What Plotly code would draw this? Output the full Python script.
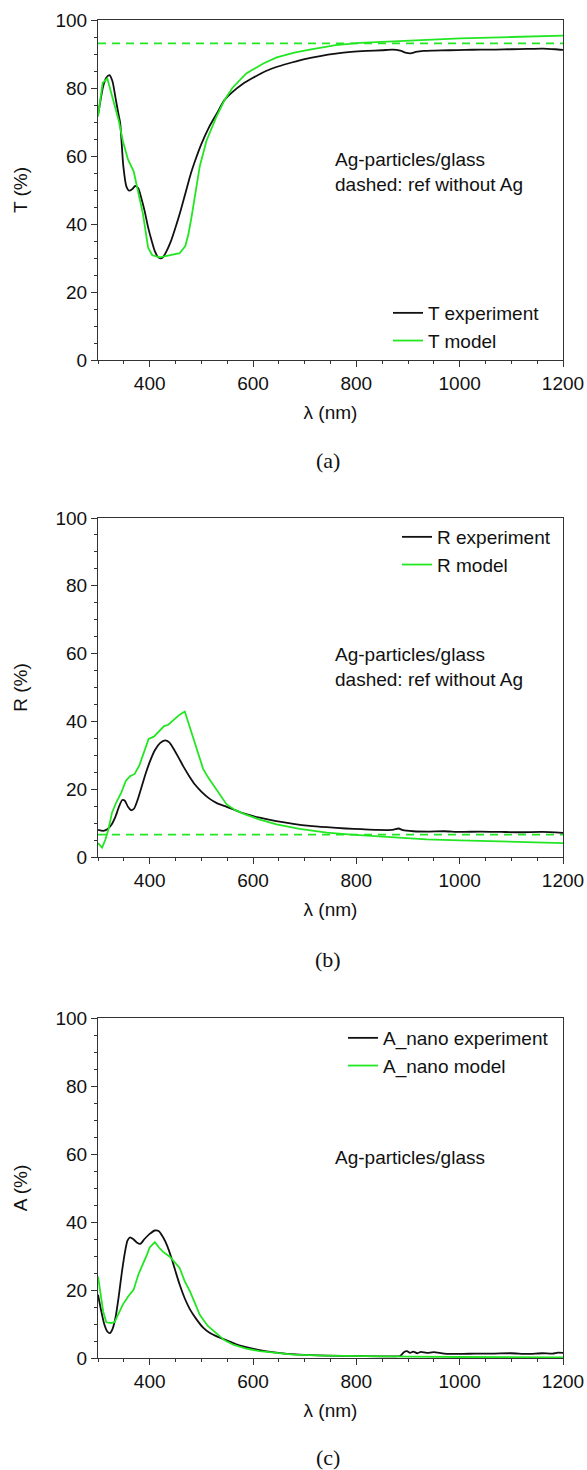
import plotly.graph_objects as go

# ---------------- data ----------------
# Panel (a): transmission
wl_T_exp = [300, 305, 310, 316, 322, 328, 334, 340, 343, 349, 355, 360, 366, 372, 378, 384, 390,
            397, 404, 410, 416, 421, 426, 432, 440, 450, 460, 470, 480, 490, 500, 515, 530, 545,
            560, 580, 600, 625, 650, 675, 700, 730, 760, 790, 820, 850, 870, 885, 895, 905, 915,
            930, 950, 980, 1010, 1040, 1070, 1100, 1130, 1160, 1185, 1200]
T_exp = [72, 76.5, 80.5, 83, 83.8, 82, 77, 72, 69.6, 57, 51, 49.8, 50.2, 51.2, 50.5, 47.5, 44,
         39, 35, 32, 30.3, 29.9, 30.3, 31.8, 34.5, 39, 44, 49.5, 55, 59.5, 63.5, 68.5, 72.5, 76.5,
         78.8, 81.2, 83, 85, 86.4, 87.5, 88.5, 89.4, 90.1, 90.6, 90.9, 91.1, 91.3, 91.0, 90.4, 90.2, 90.6,
         90.9, 91.0, 91.1, 91.2, 91.3, 91.3, 91.4, 91.5, 91.6, 91.4, 91.2]
wl_T_mod = [300, 309, 318, 325, 333, 340, 348, 358, 369, 377, 387, 397, 405, 420, 440, 458, 469,
            475, 481, 490, 497, 510, 529, 545, 560, 587, 620, 646, 680, 710, 760, 807, 872, 940,
            1001, 1100, 1200]
T_mod = [71.6, 81.5, 82.8, 79, 74, 70.5, 64.5, 59, 55.5, 50, 43, 33, 30.8, 30.2, 30.8, 31.4, 33.5,
         37, 42, 51, 57, 64.5, 71.5, 76.5, 80, 84.3, 87.2, 89, 90.4, 91.3, 92.6, 93.3, 93.8, 94.3,
         94.6, 95.0, 95.4]
T_ref = 93.1

# Panel (b): reflection
wl_R_exp = [300, 310, 318, 326, 334, 341, 347, 352, 358, 364, 370, 377, 384, 392, 400, 410, 420,
            430, 438, 446, 456, 466, 476, 488, 500, 515, 530, 549, 562, 585, 613, 645, 678, 710,
            743, 780, 810, 840, 870, 882, 890, 910, 940, 970, 1000, 1040, 1080, 1120, 1160, 1200]
R_exp = [8.0, 7.7, 8.2, 9.5, 12, 15, 16.8, 16.6, 14.8, 13.8, 14.3, 17, 20.5, 24.5, 28, 31.5, 33.6,
         34.4, 33.8, 32, 29.3, 26.5, 24, 21.3, 19.3, 17.3, 15.9, 14.8, 14.0, 12.7, 11.6, 10.6, 9.8, 9.2,
         8.8, 8.4, 8.2, 8.0, 8.0, 8.4, 7.9, 7.6, 7.5, 7.6, 7.4, 7.5, 7.4, 7.3, 7.4, 7.1]
wl_R_mod = [300, 308, 314, 320, 327, 335, 345, 354, 362, 371, 380, 390, 398, 408, 418, 428, 436,
            446, 458, 468, 476, 484, 494, 503.5, 513, 523, 536, 549, 565, 581, 610, 645.6, 690,
            743, 790, 840, 890, 936, 1000, 1065, 1130, 1200]
R_mod = [4.1, 2.8, 5, 8, 13, 16, 19, 22.5, 23.8, 24.5, 27, 31, 34.8, 35.5, 37, 38.6, 39,
         40.5, 42, 42.9, 39, 35, 30, 26, 23.5, 21.3, 18.3, 15.5, 13.9, 12.8, 11.2, 9.6, 8.3,
         7.2, 6.6, 6.1, 5.6, 5.2, 4.9, 4.6, 4.4, 4.1]
R_ref = 6.6

# Panel (c): absorption
wl_A_exp = [300, 306, 312, 318, 323, 328, 334, 340, 346, 352, 357, 362, 368, 375, 382, 390, 400,
            410, 418, 426, 434, 442, 450, 458, 468, 478, 490, 503, 516, 532, 549, 565, 581, 610,
            645, 690, 743, 800, 872, 885, 892, 898, 904, 910, 918, 925, 936, 950, 970, 1001, 1030,
            1065, 1100, 1130, 1160, 1180, 1190, 1200]
A_exp = [18.6, 14, 10, 7.8, 7.3, 8.5, 12, 18, 25, 31, 34.5, 35.5, 35, 34, 33.6, 35, 36.5,
         37.5, 37.3, 35.5, 33, 29.5, 25.5, 21.6, 17.5, 14.3, 11.5, 9, 7.4, 6.2, 5.2, 4.2, 3.4, 2.4,
         1.6, 1.0, 0.7, 0.6, 0.5, 0.6, 1.7, 2.0, 1.5, 1.9, 1.4, 1.8, 1.5, 1.7, 1.3, 1.2, 1.3,
         1.3, 1.4, 1.2, 1.4, 1.3, 1.6, 1.5]
wl_A_mod = [300, 305, 310, 316, 325, 332, 340, 348, 358, 369, 378, 387, 395, 400, 410, 418, 426,
            439, 450, 458, 468, 478, 488, 497, 512, 529, 545, 562, 585, 613, 645, 678, 740, 807,
            900, 1000, 1100, 1200]
A_mod = [24, 18, 13.7, 10.5, 10.3, 10.5, 13, 15.7, 18, 20.1, 24.5, 27.5, 30.5, 32.5, 34.1, 32.5, 31.2,
         29.8, 28, 26.5, 22.5, 19.6, 16, 12.7, 9.5, 7.2, 5.2, 3.9, 2.8, 2.0, 1.4, 1.0, 0.7, 0.5,
         0.4, 0.3, 0.25, 0.2]

x_range = [300, 1200]
y_range = [0, 100]
x_ticks = [400, 600, 800, 1000, 1200]
y_ticks = [0, 20, 40, 60, 80, 100]

y_titles = ["T (%)", "R (%)", "A (%)"]
x_title = "λ (nm)"
panel_labels = ["(a)", "(b)", "(c)"]
legend_names = [["T experiment", "T model"],
                ["R experiment", "R model"],
                ["A_nano experiment", "A_nano model"]]
notes = ["Ag-particles/glass<br>dashed: ref without Ag",
         "Ag-particles/glass<br>dashed: ref without Ag",
         "Ag-particles/glass"]

# ---------------- styling ----------------
BLACK = "#111111"
GREEN = "#22e622"
AX = "#333333"
FONT = "Liberation Sans, Arial, sans-serif"
FS = 19

W, H = 587, 1470
x_dom = [98 / W, 563 / W]
y_doms = [[1 - 360 / H, 1 - 20 / H],
          [1 - 857 / H, 1 - 518 / H],
          [1 - 1358 / H, 1 - 1018 / H]]

fig = go.Figure()

series = [
    (wl_T_exp, T_exp, wl_T_mod, T_mod, T_ref),
    (wl_R_exp, R_exp, wl_R_mod, R_mod, R_ref),
    (wl_A_exp, A_exp, wl_A_mod, A_mod, None),
]
legend_keys = ["legend", "legend2", "legend3"]

for i, (wx, wy, mx, my, ref) in enumerate(series):
    xa = "x" if i == 0 else f"x{i+1}"
    ya = "y" if i == 0 else f"y{i+1}"
    if ref is not None:
        fig.add_trace(go.Scatter(x=x_range, y=[ref, ref], mode="lines",
                                 line=dict(color=GREEN, width=1.8, dash="8px,6px"),
                                 xaxis=xa, yaxis=ya, showlegend=False, hoverinfo="skip"))
    fig.add_trace(go.Scatter(x=wx, y=wy, mode="lines", name=legend_names[i][0],
                             line=dict(color=BLACK, width=1.8, shape="spline", smoothing=0.6),
                             xaxis=xa, yaxis=ya, legend=legend_keys[i]))
    fig.add_trace(go.Scatter(x=mx, y=my, mode="lines", name=legend_names[i][1],
                             line=dict(color=GREEN, width=1.8),
                             xaxis=xa, yaxis=ya, legend=legend_keys[i]))

axis_common = dict(showline=True, linecolor=AX, linewidth=1, mirror=True,
                   ticks="outside", ticklen=6, tickwidth=1, tickcolor=AX,
                   showgrid=False, zeroline=False, automargin=False,
                   tickfont=dict(family=FONT, size=FS, color="#111"))

layout = dict(width=W, height=H, margin=dict(l=0, r=0, t=0, b=0),
              paper_bgcolor="white", plot_bgcolor="white",
              font=dict(family=FONT, size=FS, color="#111"))

for i in range(3):
    xk = "xaxis" if i == 0 else f"xaxis{i+1}"
    yk = "yaxis" if i == 0 else f"yaxis{i+1}"
    anchor_y = "y" if i == 0 else f"y{i+1}"
    anchor_x = "x" if i == 0 else f"x{i+1}"
    layout[xk] = dict(axis_common, domain=x_dom, anchor=anchor_y, range=x_range,
                      tickvals=x_ticks,
                      minor=dict(dtick=50, tick0=0, ticks="outside", ticklen=3, tickcolor=AX, showgrid=False),
                      title=dict(text=x_title, standoff=12, font=dict(family=FONT, size=FS, color="#111")))
    layout[yk] = dict(axis_common, domain=y_doms[i], anchor=anchor_x, range=y_range,
                      tickvals=y_ticks,
                      minor=dict(dtick=5, tick0=0, ticks="outside", ticklen=3, tickcolor=AX, showgrid=False),
                      title=dict(text=y_titles[i], standoff=22, font=dict(family=FONT, size=FS, color="#111")))

leg_pos = [(388 / W, 1 - 294 / H), (397 / W, 1 - 518 / H), (343 / W, 1 - 1019 / H)]
for i, key in enumerate(legend_keys):
    layout[key] = dict(x=leg_pos[i][0], y=leg_pos[i][1], xanchor="left", yanchor="top",
                       bgcolor="rgba(0,0,0,0)", borderwidth=0, tracegroupgap=0,
                       font=dict(family=FONT, size=FS, color="#111"))

annotations = []
note_y = [55.4, 56, 59.1]
for i in range(3):
    xr = "x" if i == 0 else f"x{i+1}"
    yr = "y" if i == 0 else f"y{i+1}"
    annotations.append(dict(text=notes[i], x=755, y=note_y[i], xref=xr, yref=yr,
                            xanchor="left", yanchor="middle", align="left", showarrow=False,
                            font=dict(family=FONT, size=FS, color="#111")))
label_y = [1 - 460 / H, 1 - 960 / H, 1 - 1457 / H]
for i in range(3):
    annotations.append(dict(text=panel_labels[i], x=328 / W, y=label_y[i], xref="paper", yref="paper",
                            xanchor="center", yanchor="middle", showarrow=False,
                            font=dict(family="Liberation Serif, Times New Roman, serif", size=22, color="#111")))
layout["annotations"] = annotations

fig.update_layout(**layout)
fig.write_html("out.html", config={"displayModeBar": False},
               post_script="document.body.style.margin='0';document.body.style.overflow='hidden';")
